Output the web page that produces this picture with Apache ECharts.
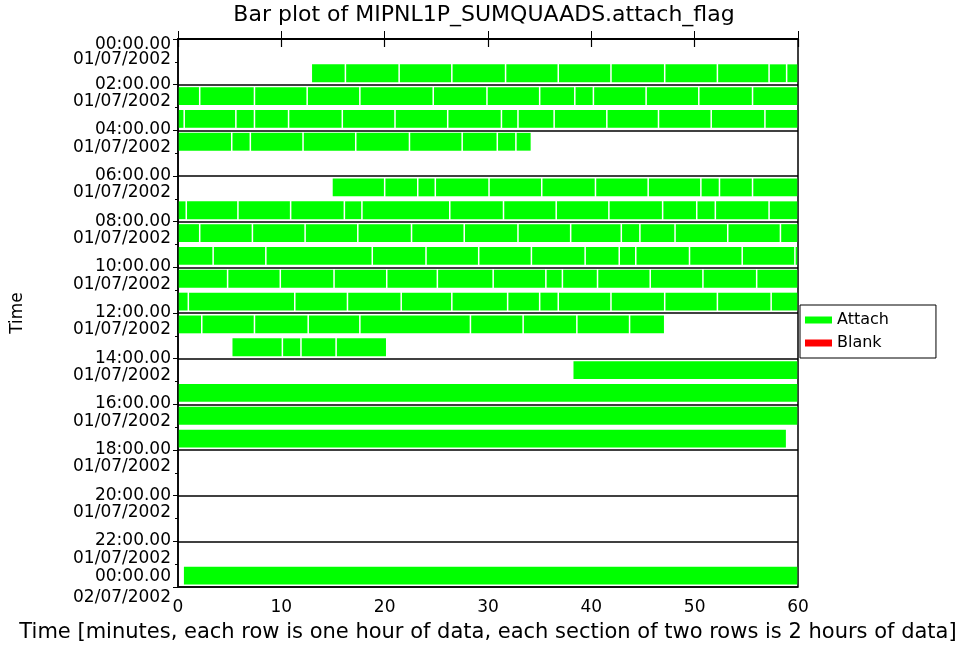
<!DOCTYPE html>
<html><head><meta charset="utf-8">
<script src="https://cdn.jsdelivr.net/npm/echarts@6/dist/echarts.min.js"></script>
<style>html,body{margin:0;padding:0;background:#fff}#c{width:968px;height:663px}</style>
</head><body><div id="c"></div>
<script>
// y tick labels (every 2 hours)
const tickTimes = ['00:00.00','02:00.00','04:00.00','06:00.00','08:00.00','10:00.00','12:00.00','14:00.00','16:00.00','18:00.00','20:00.00','22:00.00','00:00.00'];
const tickDates = ['01/07/2002','01/07/2002','01/07/2002','01/07/2002','01/07/2002','01/07/2002','01/07/2002','01/07/2002','01/07/2002','01/07/2002','01/07/2002','01/07/2002','02/07/2002'];

// Attach segments: breakpoints (minutes) per hourly row
const h00 = [];
const h01 = [12.9, 16.2, 21.4, 26.5, 31.7, 36.8, 41.9, 47.1, 52.2, 57.2, 58.9, 60];
const h02 = [0, 2.1, 7.4, 12.5, 17.6, 24.7, 29.9, 35.0, 38.4, 40.2, 45.3, 50.4, 55.6, 60];
const h03 = [0, 0.6, 5.6, 7.4, 10.7, 15.9, 21.0, 26.1, 31.3, 32.9, 36.4, 41.5, 46.5, 51.6, 56.8, 60];
const h04 = [0, 5.2, 7.0, 12.1, 17.2, 22.4, 27.5, 30.9, 32.7, 34.2];
const h05 = [];
const h06 = [14.9, 20.0, 23.2, 24.9, 30.1, 35.2, 40.4, 45.5, 50.6, 52.4, 55.6, 60];
const h07 = [0, 0.8, 5.8, 10.9, 16.1, 17.8, 26.3, 31.5, 36.6, 41.7, 46.9, 50.2, 52.0, 57.2, 60];
const h08 = [0, 2.1, 7.2, 12.3, 17.4, 22.6, 27.7, 32.9, 38.0, 42.9, 44.7, 48.1, 53.2, 58.3, 60];
const h09 = [0, 3.4, 8.5, 18.8, 24.0, 29.1, 34.2, 39.4, 42.7, 44.3, 49.5, 54.6, 59.7, 60];
const h10 = [0, 4.8, 9.9, 15.1, 20.2, 25.1, 30.5, 35.6, 37.2, 40.6, 45.7, 50.8, 56.0, 60];
const h11 = [0, 1.0, 11.3, 16.4, 21.6, 26.5, 31.9, 35.0, 36.8, 41.9, 47.1, 52.2, 57.4, 60];
const h12 = [0, 2.3, 7.4, 12.6, 17.6, 28.3, 33.4, 38.6, 43.7, 47.1];
const h13 = [5.2, 10.1, 11.9, 15.3, 20.2];
const h14 = [38.2, 60];
const h15 = [0, 60];
const h16 = [0, 60];
const h17 = [0, 58.9];
const h18 = [];
const h19 = [];
const h20 = [];
const h21 = [];
const h22 = [];
const h23 = [0.5, 60];
const attachRows = [h00,h01,h02,h03,h04,h05,h06,h07,h08,h09,h10,h11,h12,h13,h14,h15,h16,h17,h18,h19,h20,h21,h22,h23];
const blankData = [];

const attachData = [];
attachRows.forEach(function (b, row) {
  for (let i = 0; i < b.length - 1; i++) attachData.push([row, b[i], b[i + 1]]);
});

function renderItem(params, api) {
  const row = api.value(0), s = api.value(1), e = api.value(2);
  const p1 = api.coord([s, row + 0.11]);
  const p2 = api.coord([e, row + 0.89]);
  const x = p1[0] + 0.75;
  const w = Math.max(0.5, p2[0] - p1[0] - 1.5);
  const y = Math.min(p1[1], p2[1]);
  const h = Math.abs(p2[1] - p1[1]);
  return { type: 'rect', shape: { x: x, y: y, width: w, height: h }, style: api.style() };
}

const FONT = 'DejaVu Sans';
const LS = 17;
const chart = echarts.init(document.getElementById('c'), null, { renderer: 'canvas' });
chart.setOption({
  backgroundColor: '#fff',
  animation: false,
  textStyle: { fontFamily: FONT, color: '#000' },
  title: {
    text: 'Bar plot of MIPNL1P_SUMQUAADS.attach_flag',
    left: 'center', top: 1, padding: [3, 0, 3, 8],
    textStyle: { fontFamily: FONT, fontSize: 22, fontWeight: 'normal', color: '#000' }
  },
  legend: {
    orient: 'vertical', left: 800, top: 305,
    padding: [7, 47, 7, 5], itemGap: 7,
    borderColor: '#000', borderWidth: 1, backgroundColor: '#fff',
    itemWidth: 27, itemHeight: 7, icon: 'rect',
    textStyle: { fontFamily: FONT, fontSize: 16, color: '#000' },
    data: ['Attach', 'Blank']
  },
  grid: { left: 178, right: 170, top: 39, bottom: 76, show: true, borderColor: '#000', borderWidth: 1.5, backgroundColor: 'transparent' },
  xAxis: [{
    type: 'value', min: 0, max: 60, interval: 10, position: 'bottom',
    name: 'Time [minutes, each row is one hour of data, each section of two rows is 2 hours of data]',
    nameLocation: 'middle', nameGap: 35,
    nameTextStyle: { fontFamily: FONT, fontSize: 21, color: '#000' },
    axisLine: { show: true, lineStyle: { color: '#000', width: 1.5 } },
    axisTick: { show: true, inside: true, length: 8, lineStyle: { color: '#000' } },
    axisLabel: { fontFamily: FONT, fontSize: 17, color: '#000', margin: 12, showMinLabel: true, showMaxLabel: true },
    splitLine: { show: false }
  }, {
    type: 'value', min: 0, max: 60, interval: 10, position: 'top',
    axisLine: { show: true, lineStyle: { color: '#000', width: 1.5 } },
    axisTick: { show: true, inside: true, length: 8, lineStyle: { color: '#000', width: 1.2 } },
    axisLabel: { show: false },
    splitLine: { show: false }
  }],
  yAxis: {
    type: 'value', min: 0, max: 24, interval: 2, inverse: true,
    name: 'Time', nameLocation: 'middle', nameGap: 152, nameRotate: 90,
    nameTextStyle: { fontFamily: FONT, fontSize: 17, color: '#000' },
    axisLine: { show: true, lineStyle: { color: '#000', width: 1.5 } },
    axisTick: { show: true, inside: false, length: 5, lineStyle: { color: '#000' } },
    minorTick: { show: true, splitNumber: 2, length: 3, lineStyle: { color: '#000' } },
    splitLine: { show: true, lineStyle: { color: '#000', width: 1.5 } },
    axisLabel: {
      margin: 7, align: 'right', showMinLabel: true, showMaxLabel: true,
      formatter: function (v) {
        const i = Math.round(v / 2);
        if (i === 0) return '{b0| }\n{t0|' + tickTimes[i] + '}\n{d0|' + tickDates[i] + '}';
        if (i === tickTimes.length - 1) return '{t2|' + tickTimes[i] + '}\n{d2|' + tickDates[i] + '}';
        return '{t|' + tickTimes[i] + '}\n{d|' + tickDates[i] + '}';
      },
      rich: {
        t: { fontSize: LS, lineHeight: 34, fontFamily: FONT, color: '#000', align: 'right' },
        d: { fontSize: LS, lineHeight: 1, fontFamily: FONT, color: '#000', align: 'right' },
        b0: { fontSize: LS, lineHeight: 25, fontFamily: FONT },
        t0: { fontSize: LS, lineHeight: 17, fontFamily: FONT, color: '#000', align: 'right' },
        d0: { fontSize: LS, lineHeight: 14, fontFamily: FONT, color: '#000', align: 'right' },
        t2: { fontSize: LS, lineHeight: 22, fontFamily: FONT, color: '#000', align: 'right' },
        d2: { fontSize: LS, lineHeight: 20, fontFamily: FONT, color: '#000', align: 'right' }
      }
    }
  },
  series: [{
    name: 'Attach', type: 'custom', renderItem: renderItem,
    encode: { x: [1, 2], y: 0 },
    itemStyle: { color: '#00ff00' },
    data: attachData
  }, {
    name: 'Blank', type: 'custom', renderItem: renderItem,
    encode: { x: [1, 2], y: 0 },
    itemStyle: { color: '#ff0000' },
    data: blankData
  }]
});
</script>
</body></html>
